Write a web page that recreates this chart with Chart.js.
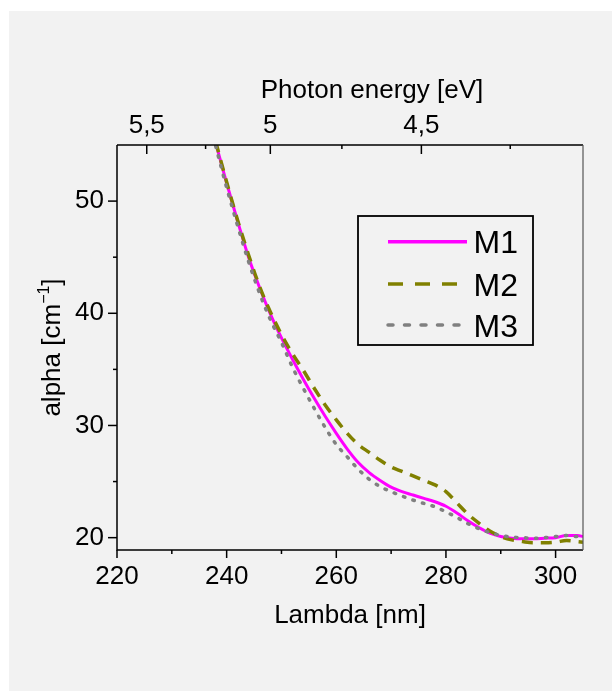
<!DOCTYPE html>
<html>
<head>
<meta charset="utf-8">
<script src="https://cdn.jsdelivr.net/npm/chart.js@4.4.0/dist/chart.umd.min.js"></script>
<style>
  html, body { margin: 0; padding: 0; background: #fff; }
</style>
</head>
<body>
<canvas id="chart" width="612" height="691"></canvas>
<script>
/* DATA */
const lambda = [238, 240, 242, 244, 246, 248, 250, 252, 254, 256, 258, 260, 262, 264, 266, 268, 270, 272, 274, 276, 278, 280, 282, 284, 286, 288, 290, 292, 294, 296, 298, 300, 302, 304, 305];
const m1 = [55.2, 51.6, 48.2, 45.0, 42.3, 39.9, 37.8, 35.9, 34.1, 32.4, 30.8, 29.3, 27.9, 26.7, 25.8, 25.1, 24.5, 24.1, 23.8, 23.5, 23.2, 22.8, 22.2, 21.5, 20.9, 20.4, 20.1, 19.95, 19.9, 19.9, 19.95, 20.0, 20.2, 20.2, 20.1];
const m2 = [55.3, 51.7, 48.3, 45.2, 42.4, 40.1, 38.1, 36.4, 34.9, 33.3, 31.8, 30.5, 29.3, 28.3, 27.6, 26.9, 26.3, 25.9, 25.5, 25.1, 24.7, 24.1, 23.1, 22.1, 21.3, 20.6, 20.1, 19.8, 19.65, 19.55, 19.55, 19.6, 19.75, 19.65, 19.6];
const m3 = [54.9, 51.2, 47.8, 44.6, 41.8, 39.4, 37.4, 35.2, 33.3, 31.5, 29.8, 28.3, 27.2, 26.1, 25.2, 24.55, 24.1, 23.7, 23.35, 23.05, 22.75, 22.3, 21.8, 21.25, 20.8, 20.45, 20.2, 20.05, 20.0, 19.95, 20.0, 20.1, 20.2, 20.1, 20.1];

const lambdaTicks = [220, 240, 260, 280, 300];
const lambdaMinor = [230, 250, 270, 290];
const alphaTicks = [20, 30, 40, 50];
const alphaMinor = [25, 35, 45];
const energyTicks = [5.5, 5, 4.5];
const energyMinor = [5.25, 4.75, 4.25];
const seriesNames = ["M1", "M2", "M3"];

const HC = 1239.84; // nm * eV
const FONT = '"Liberation Sans", Arial, sans-serif';

function pts(arr) {
  return lambda.map((l, i) => ({ x: l, y: arr[i] }));
}

/* =========================
   background, frame, ticks, titles, legend
========================= */
const legendDash = [[], [15, 12], [5, 11.5]];

const decor = {
  id: "decor",
  beforeDraw(chart) {
    const c = chart.ctx;
    c.save();
    c.fillStyle = "#fff";
    c.fillRect(0, 0, chart.width, chart.height);
    c.fillStyle = "#f2f2f2";
    c.fillRect(9, 11, chart.width - 9, chart.height - 11);
    c.restore();
  },
  afterDraw(chart) {
    const c = chart.ctx;
    const a = chart.chartArea;
    const { x, x2, y } = chart.scales;

    c.save();
    c.lineCap = "butt";

    // frame
    c.strokeStyle = "#000";
    c.lineWidth = 1.5;
    c.beginPath();
    c.moveTo(a.left, a.top);
    c.lineTo(a.left, a.bottom);
    c.lineTo(a.right, a.bottom);
    c.moveTo(a.left, a.top);
    c.lineTo(a.right, a.top);
    c.stroke();
    c.strokeStyle = "#555";
    c.lineWidth = 1.2;
    c.beginPath();
    c.moveTo(a.right, a.top);
    c.lineTo(a.right, a.bottom);
    c.stroke();

    // ticks
    c.strokeStyle = "#000";
    c.lineWidth = 1.5;
    const tick = (x0, y0, x1, y1) => {
      c.beginPath();
      c.moveTo(x0, y0);
      c.lineTo(x1, y1);
      c.stroke();
    };
    lambdaTicks.forEach((v) => { const p = x.getPixelForValue(v); tick(p, a.bottom, p, a.bottom + 8); });
    lambdaMinor.forEach((v) => { const p = x.getPixelForValue(v); tick(p, a.bottom, p, a.bottom + 4); });
    alphaTicks.forEach((v) => { const p = y.getPixelForValue(v); tick(a.left - 9, p, a.left, p); });
    alphaMinor.forEach((v) => { const p = y.getPixelForValue(v); tick(a.left - 4, p, a.left, p); });
    energyTicks.forEach((e) => { const p = x2.getPixelForValue(HC / e); tick(p, a.top, p, a.top + 9); });
    energyMinor.forEach((e) => { const p = x2.getPixelForValue(HC / e); tick(p, a.top, p, a.top + 4); });

    // axis titles
    c.fillStyle = "#000";
    c.font = "26px " + FONT;
    c.textAlign = "center";
    c.textBaseline = "alphabetic";
    c.fillText("Lambda [nm]", (a.left + a.right) / 2, 623);
    c.fillText("Photon energy [eV]", 372, 98);

    // y title with superscript
    c.save();
    c.translate(60, (a.top + a.bottom) / 2);
    c.rotate(-Math.PI / 2);
    c.textAlign = "left";
    const t1 = "alpha [cm", sup = "\u22121", t3 = "]";
    c.font = "26px " + FONT;
    const w1 = c.measureText(t1).width;
    const w3 = c.measureText(t3).width;
    c.font = "16px " + FONT;
    const ws = c.measureText(sup).width;
    let sx = -(w1 + ws + w3) / 2;
    c.font = "26px " + FONT;
    c.fillText(t1, sx, 0);
    c.font = "16px " + FONT;
    c.fillText(sup, sx + w1, -11);
    c.font = "26px " + FONT;
    c.fillText(t3, sx + w1 + ws, 0);
    c.restore();

    // legend
    c.strokeStyle = "#000";
    c.lineWidth = 1.8;
    c.strokeRect(358, 216, 175, 129);
    const rows = [241.7, 284, 325];
    chart.data.datasets.forEach((ds, i) => {
      c.strokeStyle = ds.borderColor;
      c.lineWidth = 3.5;
      c.setLineDash(legendDash[i]);
      c.lineCap = i === 2 ? "round" : "butt";
      c.beginPath();
      c.moveTo(388, rows[i]);
      c.lineTo(467, rows[i]);
      c.stroke();
      c.setLineDash([]);
      c.fillStyle = "#000";
      c.font = "32px " + FONT;
      c.textAlign = "left";
      c.textBaseline = "alphabetic";
      c.fillText(ds.label, 473.5, rows[i] + 11.6);
    });
    c.restore();
  },
};

/* =========================
   CHART
========================= */
const tickFont = { family: FONT, size: 26 };

new Chart(document.getElementById("chart"), {
  type: "line",
  data: {
    datasets: [
      {
        label: seriesNames[0],
        data: pts(m1),
        borderColor: "#ff00ff",
        borderWidth: 3,
        order: 3,
      },
      {
        label: seriesNames[1],
        data: pts(m2),
        borderColor: "#808000",
        borderWidth: 3.5,
        borderDash: [11, 8],
        order: 2,
      },
      {
        label: seriesNames[2],
        data: pts(m3),
        borderColor: "#808080",
        borderWidth: 3.5,
        borderDash: [1.5, 8.5],
        borderCapStyle: "round",
        order: 1,
      },
    ],
  },
  options: {
    responsive: false,
    animation: false,
    devicePixelRatio: 1,
    parsing: false,
    layout: { padding: { left: 0, right: 29, top: 0, bottom: 0 } },
    elements: {
      point: { radius: 0 },
      line: { cubicInterpolationMode: "monotone", fill: false },
    },
    plugins: {
      legend: { display: false },
      tooltip: { enabled: false },
    },
    scales: {
      x: {
        type: "linear",
        position: "bottom",
        min: 220,
        max: 305,
        afterBuildTicks: (s) => { s.ticks = lambdaTicks.map((v) => ({ value: v })); },
        afterFit: (s) => { s.height = 141; },
        grid: { display: false, drawTicks: false },
        border: { display: false },
        ticks: { font: tickFont, color: "#000", padding: 11, maxRotation: 0, autoSkip: false },
      },
      x2: {
        type: "linear",
        position: "top",
        min: 220,
        max: 305,
        afterBuildTicks: (s) => { s.ticks = energyTicks.map((e) => ({ value: HC / e })); },
        afterFit: (s) => { s.height = 145; },
        grid: { display: false, drawTicks: false },
        border: { display: false },
        ticks: {
          font: tickFont,
          color: "#000",
          padding: 4,
          maxRotation: 0,
          autoSkip: false,
          callback: (v) => String(Math.round((HC / v) * 100) / 100).replace(".", ","),
        },
      },
      y: {
        type: "linear",
        position: "left",
        min: 18.9,
        max: 55,
        afterBuildTicks: (s) => { s.ticks = alphaTicks.map((v) => ({ value: v })); },
        afterFit: (s) => { s.width = 117; },
        grid: { display: false, drawTicks: false },
        border: { display: false },
        ticks: { font: tickFont, color: "#000", padding: 13 },
      },
    },
  },
  plugins: [decor],
});
</script>
</body>
</html>
